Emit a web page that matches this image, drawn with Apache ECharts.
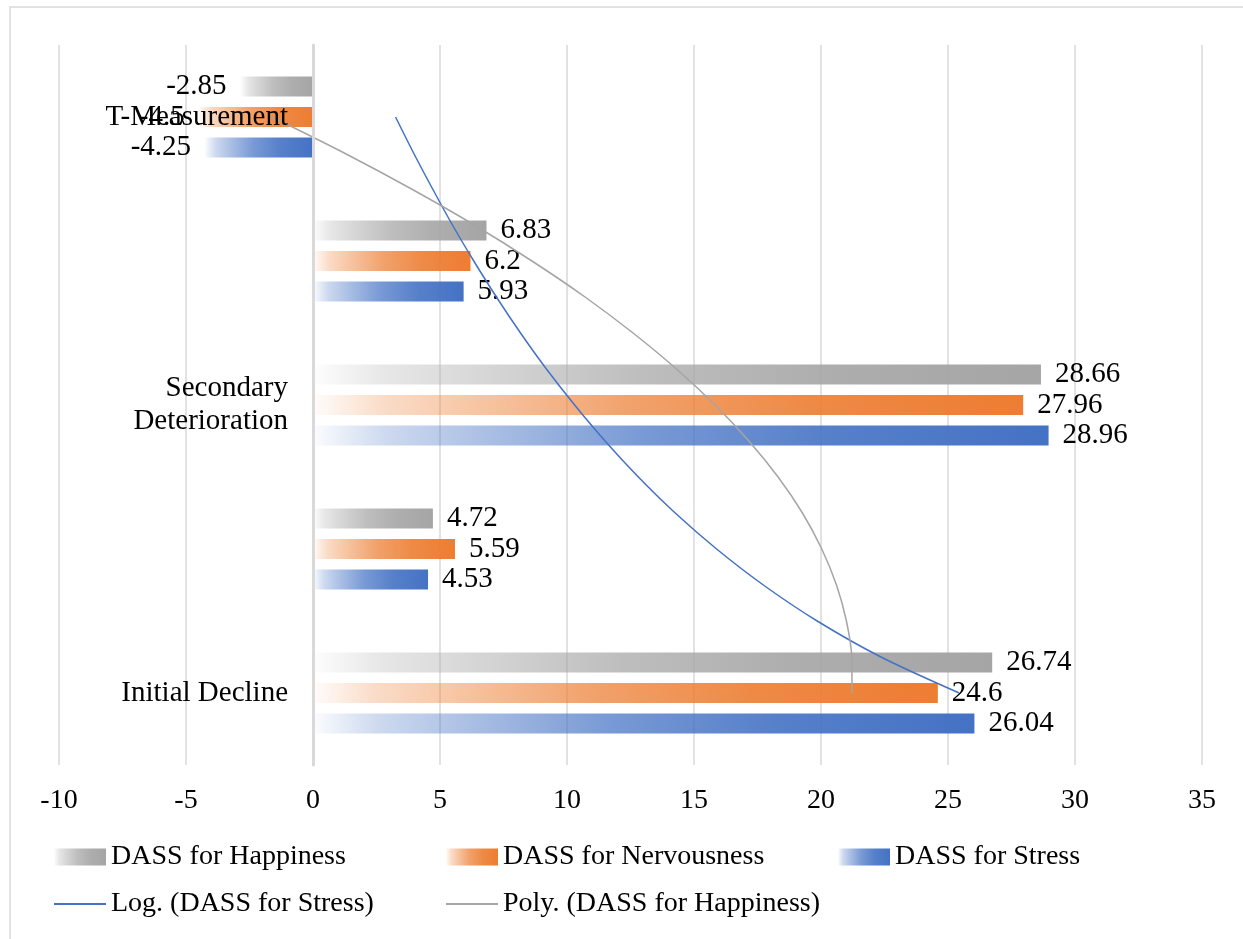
<!DOCTYPE html>
<html>
<head>
<meta charset="utf-8">
<script src="https://cdn.jsdelivr.net/npm/echarts@6/dist/echarts.min.js"></script>
<style>
  html, body { margin: 0; padding: 0; background: #fff; }
  #chart { width: 1243px; height: 939px; }
</style>
</head>
<body>
<div id="chart"></div>
<script>
// categories, bottom to top
const categories = ['Initial Decline', ' ', 'Secondary\nDeterioration', '  ', 'T-Measurement'];
const happiness = [26.74, 4.72, 28.66, 6.83, -2.85];
const nervousness = [24.6, 5.59, 27.96, 6.2, -4.5];
const stress = [26.04, 4.53, 28.96, 5.93, -4.25];

// trendlines: [value, category position 1..5]
const logStress = [
  [25.44, 1], [22.36, 1.25], [19.85, 1.5], [17.73, 1.75], [15.89, 2],
  [14.26, 2.25], [12.81, 2.5], [11.50, 2.75], [10.30, 3], [9.19, 3.25],
  [8.17, 3.5], [7.22, 3.75], [6.33, 4], [5.49, 4.25], [4.71, 4.5],
  [3.96, 4.75], [3.25, 5]
];
const polyHappiness = [
  [21.22, 1], [21.21, 1.25], [21.00, 1.5], [20.61, 1.75], [20.03, 2],
  [19.27, 2.25], [18.31, 2.5], [17.16, 2.75], [15.83, 3], [14.31, 3.25],
  [12.60, 3.5], [10.71, 3.75], [8.62, 4], [6.35, 4.25], [3.88, 4.5],
  [1.23, 4.75], [-1.61, 5]
];

const FONT = 'Liberation Serif';
const X_MIN = -10, X_MAX = 35;
const GRID_L = 59, GRID_R = 41;

// white -> colour, fast at the start like the excel fill
function fade(r, g, b) {
  const c = a => 'rgba(' + r + ',' + g + ',' + b + ',' + a + ')';
  return new echarts.graphic.LinearGradient(0, 0, 1, 0, [
    { offset: 0, color: c(0.02) },
    { offset: 0.1, color: c(0.27) },
    { offset: 0.25, color: c(0.47) },
    { offset: 0.45, color: c(0.72) },
    { offset: 0.7, color: c(0.9) },
    { offset: 1, color: c(1) }
  ]);
}

function barData(arr) {
  return arr.map(v => ({
    value: v,
    label: { position: v < 0 ? 'left' : 'right' }
  }));
}

function barSeries(name, arr, grad) {
  return {
    name: name,
    type: 'bar',
    yAxisIndex: 0,
    barWidth: 20,
    barGap: '52%',
    itemStyle: { color: grad },
    label: {
      show: true,
      distance: 14,
      color: '#000',
      fontFamily: FONT,
      fontSize: 29
    },
    data: barData(arr)
  };
}

function legendAt(name, left, top, isLine) {
  return {
    data: [name],
    left: left,
    top: top,
    icon: 'rect',
    itemWidth: 52,
    itemHeight: isLine ? 2 : 17,
    padding: 0,
    selectedMode: false,
    textStyle: { fontFamily: FONT, fontSize: 28, color: '#000' }
  };
}

const chart = echarts.init(document.getElementById('chart'));

// category axis sits on x = 0 (onZero does not kick in here, so shift it)
const plotW = 1243 - GRID_L - GRID_R;
const zeroShift = -plotW * (0 - X_MIN) / (X_MAX - X_MIN);

const option = {
  backgroundColor: '#fff',
  animation: false,
  graphic: [{
    type: 'rect',
    shape: { x: 10, y: 7, width: 1400, height: 1000 },
    style: { fill: 'none', stroke: '#d9d9d9', lineWidth: 1.5 },
    silent: true
  }],
  legend: [
    legendAt('DASS for Happiness', 54, 843),
    legendAt('DASS for Nervousness', 446, 843),
    legendAt('DASS for Stress', 838, 843),
    legendAt('Log. (DASS for Stress)', 54, 890, true),
    legendAt('Poly. (DASS for Happiness)', 446, 890, true)
  ],
  grid: {
    left: GRID_L, right: GRID_R, top: 45, bottom: 174,
    containLabel: false,
    outerBoundsMode: 'none'
  },
  xAxis: {
    type: 'value',
    min: X_MIN,
    max: X_MAX,
    interval: 5,
    axisLine: { show: false, onZero: false },
    axisTick: { show: false },
    axisLabel: { margin: 22, color: '#000', fontFamily: FONT, fontSize: 28 },
    splitLine: { lineStyle: { color: '#d9d9d9', width: 1.5 } }
  },
  yAxis: [{
    type: 'category',
    data: categories,
    z: 10,
    offset: zeroShift,
    axisLine: { show: true, onZero: false, lineStyle: { color: '#d9d9d9', width: 3 } },
    axisTick: { show: false },
    axisLabel: {
      margin: 25,
      color: '#000',
      fontFamily: FONT,
      fontSize: 29,
      lineHeight: 33,
      align: 'right'
    },
    splitLine: { show: false }
  }, {
    type: 'value',
    min: 0.5,
    max: 5.5,
    show: false
  }],
  series: [
    barSeries('DASS for Happiness', happiness, fade(165, 165, 165)),
    barSeries('DASS for Nervousness', nervousness, fade(237, 125, 49)),
    barSeries('DASS for Stress', stress, fade(68, 114, 196)),
    {
      name: 'Log. (DASS for Stress)',
      type: 'line',
      yAxisIndex: 1,
      symbol: 'none',
      smooth: 0.3,
      z: 5,
      lineStyle: { color: '#4472C4', width: 1.5 },
      itemStyle: { color: '#4472C4' },
      data: logStress
    },
    {
      name: 'Poly. (DASS for Happiness)',
      type: 'line',
      yAxisIndex: 1,
      symbol: 'none',
      smooth: 0.3,
      z: 5,
      lineStyle: { color: '#A5A5A5', width: 1.5 },
      itemStyle: { color: '#A5A5A5' },
      data: polyHappiness
    }
  ]
};

chart.setOption(option);
</script>
</body>
</html>
